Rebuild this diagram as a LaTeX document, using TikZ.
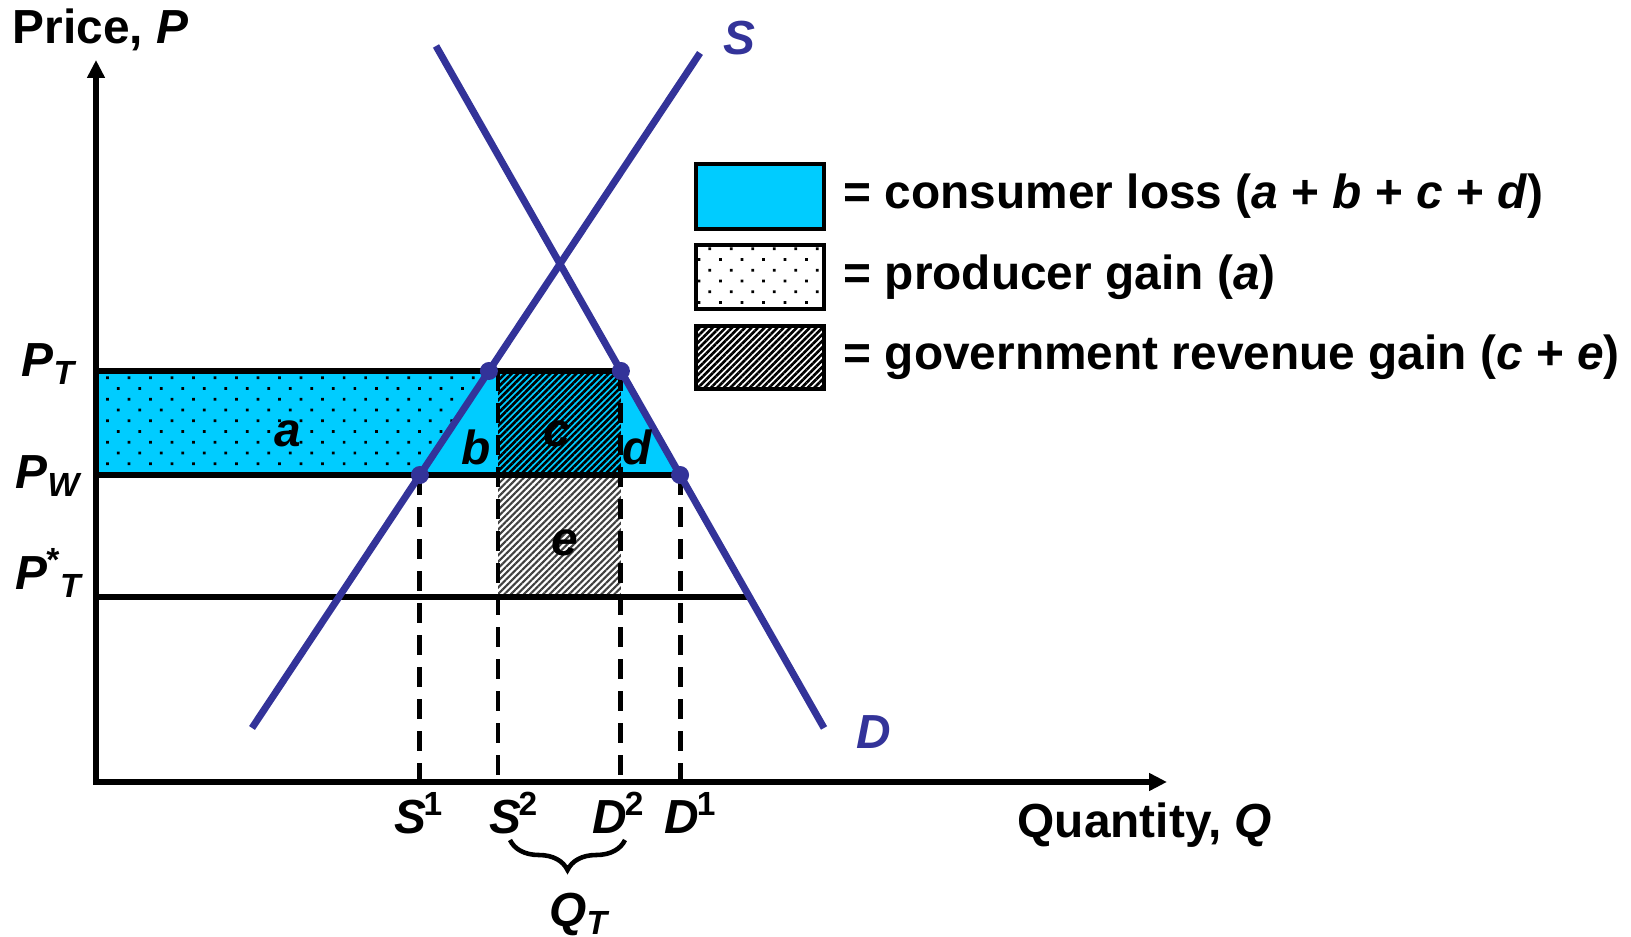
\documentclass[tikz,border=0pt]{standalone}
\usepackage{fontspec}
\setmainfont{Liberation Sans}
\definecolor{curveblue}{RGB}{51,51,153}
\definecolor{losscyan}{RGB}{0,204,255}
\usetikzlibrary{arrows.meta,patterns.meta,intersections,decorations.pathreplacing}
\newcommand{\bigfont}{\bfseries\fontsize{13.6}{16}\selectfont}
\tikzset{
  ax/.style={{Triangle[length=0.18cm,width=0.17cm]}-{Triangle[length=0.18cm,width=0.17cm]},line width=1.8pt},
  curveln/.style={curveblue,line width=2pt},
  priceln/.style={line width=1.6pt},
  guideln/.style={line width=1.4pt,dash pattern=on 0.2cm off 0.12cm},
  dotB/.style={circle,fill=curveblue,inner sep=0pt,minimum size=0.18cm},
  lbl/.style={font=\bigfont,inner sep=0pt},
  ilbl/.style={font=\bigfont\itshape,inner sep=0pt},
  dotsfill/.style={pattern={Dots[radius=0.55pt,distance=0.152cm,angle=45]},pattern color=black},
  hatchfill/.style={pattern={Lines[angle=45,distance=1.3pt,line width=0.75pt]},pattern color=black},
  hatchgray/.style={pattern={Lines[angle=45,distance=1.3pt,line width=0.6pt]},pattern color=black!75},
  legbox/.style={draw,line width=1.1pt},
}

\begin{document}
\begin{tikzpicture}[x=0.01cm,y=0.01cm]
  \useasboundingbox (0,0) rectangle (1631,937);
  % axes and price levels
  \coordinate (O) at (96,155);
  \coordinate (ytop) at (96,877);
  \coordinate (xend) at (1167,155);
  \def\PT{566}\def\PW{462}\def\PS{340}
  \coordinate (sl) at (252,209); \coordinate (su) at (700,884);
  \coordinate (du) at (436,891); \coordinate (dl) at (824,209);
  \path[name path=sup] (sl) -- (su);
  \path[name path=dem] (du) -- (dl);
  \path[name path=ptl] (96,\PT) -- (1100,\PT);
  \path[name path=pwl] (96,\PW) -- (1100,\PW);
  \path[name path=psl] (96,\PS) -- (1100,\PS);
  \path[name intersections={of=sup and ptl,by=spt}];
  \path[name intersections={of=sup and pwl,by=spw}];
  \path[name intersections={of=dem and ptl,by=dpt}];
  \path[name intersections={of=dem and pwl,by=dpw}];
  \path[name intersections={of=dem and psl,by=dps}];
  \coordinate (s2t) at (498,\PT); \coordinate (s2b) at (498,155);
  % shaded areas
  \fill[losscyan] (96,\PW) -- (96,\PT) -- (dpt) -- (dpw) -- cycle;
  \fill[dotsfill] (96,\PW) -- (96,\PT) -- (spt) -- (spw) -- cycle;
  \fill[hatchfill] (498,\PW) rectangle (dpt);
  \fill[hatchgray] (498,\PS) rectangle (dpt|-0,\PW);
  % price lines
  \draw[priceln] (96,\PT) -- (dpt);
  \draw[priceln] (96,\PW) -- (dpw);
  \draw[priceln] (96,\PS) -- (dps);
  % quantities
  \draw[guideln] (spw) -- (spw|-O);
  \draw[guideln] (s2t) -- (s2b);
  \draw[guideln] (dpt) -- (dpt|-O);
  \draw[guideln] (dpw) -- (dpw|-O);
  \draw[ax] (ytop) -- (O) -- (xend);
  % supply and demand
  \draw[curveln] (sl) -- (su);
  \draw[curveln] (du) -- (dl);
  \foreach \p in {spt,spw,dpt,dpw}
    \node[dotB] at (\p) {};
  % labels
  \node[lbl,anchor=base west] (plab) at (12,893) {Price, \textit{P}};
  \node[lbl,anchor=base west] (qlab) at (1017,99) {Quantity, \textit{Q}};
  \node[ilbl,curveblue,anchor=base] (slab) at (739,882) {S};
  \node[ilbl,curveblue,anchor=base] (dlab) at (874,188) {D};
  \node[ilbl,anchor=base west] (ptlab) at (21,560) {P\textsubscript{T}};
  \node[ilbl,anchor=base west] (pwlab) at (15,448) {P\textsubscript{W}};
  \node[ilbl,anchor=base west] (pslab) at (15,347) {P\kern-0.05em\textsuperscript{*}\textsubscript{T}};
  \node[ilbl,anchor=base] (alab) at (288,490) {a};
  \node[ilbl,anchor=base] (blab) at (476,472) {b};
  \node[ilbl,anchor=base] (clab) at (557,490) {c};
  \node[ilbl,anchor=base] (dlabr) at (637,472) {d};
  \node[ilbl,anchor=base] (elab) at (565,381) {e};
  \node[ilbl,anchor=base] (sa) at (419,103) {S\kern-0.05em\textsuperscript{\upshape 1}};
  \node[ilbl,anchor=base] (sb) at (514,103) {S\kern-0.05em\textsuperscript{\upshape 2}};
  \node[ilbl,anchor=base] (da) at (619,103) {D\kern-0.05em\textsuperscript{\upshape 2}};
  \node[ilbl,anchor=base] (db) at (691,103) {D\kern-0.05em\textsuperscript{\upshape 1}};
  \draw[line width=1.3pt,decorate,decoration={brace,mirror,amplitude=0.3cm}]
    (510,97) -- (625,97);
  \node[ilbl,anchor=base] (qt) at (579,10) {Q\textsubscript{T}};
  % legend
  \draw[legbox,fill=losscyan] (696,708) rectangle (824,773);
  \draw[legbox,dotsfill] (696,628) rectangle (824,692);
  \draw[legbox,hatchfill] (696,548) rectangle (824,611);
  \node[lbl,anchor=base west] (leg1) at (843,728)
    {= consumer loss (\textit{a} + \textit{b} + \textit{c} + \textit{d})};
  \node[lbl,anchor=base west] (leg2) at (843,647) {= producer gain (\textit{a})};
  \node[lbl,anchor=base west] (leg3) at (843,567)
    {= government revenue gain (\textit{c} + \textit{e})};
\end{tikzpicture}
\end{document}
